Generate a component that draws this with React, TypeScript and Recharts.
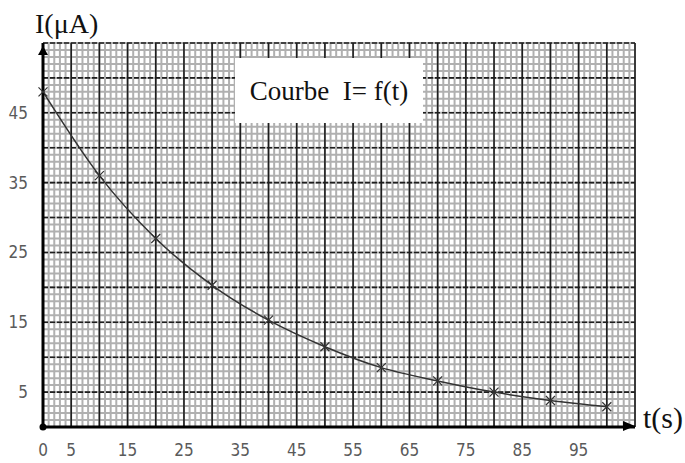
import React from 'react';
import { LineChart, Line, XAxis, YAxis, CartesianGrid, ReferenceDot } from 'recharts';

// Data
const times = [0, 10, 20, 30, 40, 50, 60, 70, 80, 90, 100];
const currents = [48, 36, 27, 20.3, 15.3, 11.5, 8.5, 6.6, 5.0, 3.8, 2.9];
const xTicks = [0, 5, 15, 25, 35, 45, 55, 65, 75, 85, 95];
const yTicks = [5, 15, 25, 35, 45];
const X_MAX = 105;
const Y_MAX = 55;

// Graph-paper grid values (axis units)
const minorX = Array.from({ length: X_MAX + 1 }, (_, i) => i);
const minorY = Array.from({ length: Y_MAX + 1 }, (_, i) => i);
const majorX = Array.from({ length: X_MAX / 5 + 1 }, (_, i) => i * 5);
const majorY = Array.from({ length: Y_MAX / 5 + 1 }, (_, i) => i * 5);

const data = times.map((t, i) => ({ t, I: currents[i] }));

const tickFont = "'Liberation Sans Narrow', 'DejaVu Sans Condensed', 'Open Sans', sans-serif";
const serifFont = "'Liberation Serif', 'DejaVu Serif', serif";

const Cross = (props: any) => {
  const { cx, cy, index } = props;
  if (cx == null || cy == null) return <g key={`c${index}`} />;
  const s = 4.5;
  return (
    <path
      key={`c${index}`}
      d={`M${cx - s},${cy - s}L${cx + s},${cy + s}M${cx + s},${cy - s}L${cx - s},${cy + s}`}
      stroke="#333"
      strokeWidth={1.2}
      fill="none"
    />
  );
};

const ArrowUp = (p: any) => (
  <path d={`M${p.cx},${p.cy + 3}L${p.cx - 5},${p.cy + 12}L${p.cx + 5},${p.cy + 12}Z`} fill="#000" />
);
const ArrowRight = (p: any) => (
  <path d={`M${p.cx},${p.cy - 1}L${p.cx - 12},${p.cy - 6}L${p.cx - 12},${p.cy + 4}Z`} fill="#000" />
);
const OriginDot = (p: any) => <circle cx={p.cx} cy={p.cy} r={3.5} fill="#000" />;

export default function App() {
  return (
    <div style={{ position: 'absolute', left: 0, top: 0, width: 685, height: 463, background: '#fff' }}>
      <LineChart width={685} height={463} data={data} margin={{ top: 43, right: 50, bottom: 0, left: 0 }}>
        <CartesianGrid
          verticalValues={minorX}
          horizontalValues={minorY}
          stroke="#b0b0b0"
          strokeWidth={2}
          fill="none"
        />
        <CartesianGrid verticalValues={majorX} horizontal={false} stroke="#1e1e1e" strokeWidth={1.6} fill="none" />
        <CartesianGrid
          horizontalValues={majorY}
          vertical={false}
          stroke="#1e1e1e"
          strokeWidth={1.6}
          strokeDasharray="5 2"
          fill="none"
        />
        <XAxis
          dataKey="t"
          type="number"
          domain={[0, X_MAX]}
          ticks={xTicks}
          interval={0}
          height={36}
          tickLine={false}
          tickSize={0}
          tickMargin={17}
          axisLine={{ stroke: '#000', strokeWidth: 3 }}
          tick={{ fill: '#5a5a5a', fontSize: 17, fontFamily: tickFont }}
        />
        <YAxis
          type="number"
          domain={[0, Y_MAX]}
          ticks={yTicks}
          interval={0}
          width={43}
          tickLine={false}
          tickSize={0}
          tickMargin={15}
          axisLine={{ stroke: '#000', strokeWidth: 3 }}
          tick={{ fill: '#5a5a5a', fontSize: 17, fontFamily: tickFont }}
        />
        <Line
          dataKey="I"
          type="monotone"
          stroke="#333"
          strokeWidth={1.5}
          dot={Cross}
          activeDot={false}
          isAnimationActive={false}
        />
        <ReferenceDot x={0} y={Y_MAX} ifOverflow="visible" shape={ArrowUp} />
        <ReferenceDot x={X_MAX} y={0} ifOverflow="visible" shape={ArrowRight} />
        <ReferenceDot x={0} y={0} ifOverflow="visible" shape={OriginDot} />
      </LineChart>
      <svg
        width={685}
        height={463}
        style={{ position: 'absolute', left: 0, top: 0, pointerEvents: 'none' }}
      >
        <text x={35} y={33} fontFamily={serifFont} fontSize={28} fill="#111">I(μA)</text>
        <text x={643} y={428} fontFamily={serifFont} fontSize={30} fill="#111">t(s)</text>
        <rect x={235} y={58} width={188} height={65} fill="#fff" />
        <text x={329} y={100} textAnchor="middle" fontFamily={serifFont} fontSize={27} fill="#111">
          {'Courbe\u00a0\u00a0I= f(t)'}
        </text>
      </svg>
    </div>
  );
}
